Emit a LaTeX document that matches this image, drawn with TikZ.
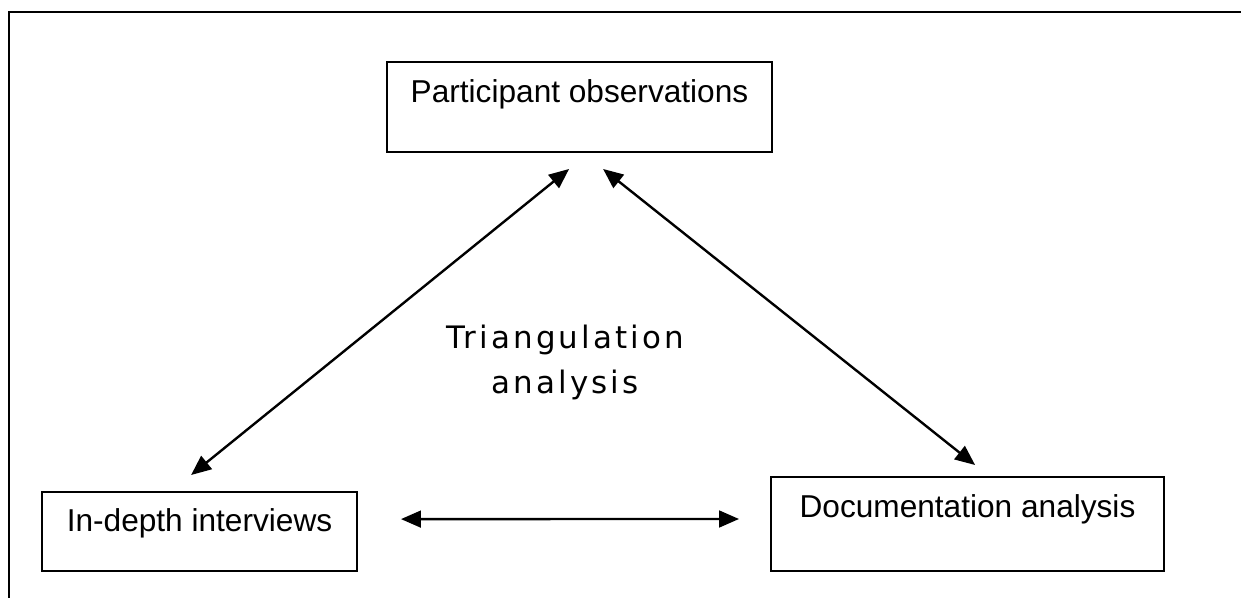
\documentclass[tikz,border=0pt]{standalone}
\usepackage{fontspec}
\setmainfont{Liberation Sans}
\newfontfamily\trifont[LetterSpace=10]{DejaVu Sans}
\usepackage{tikz}
\usetikzlibrary{calc,arrows.meta}
\usetikzlibrary{positioning}

\tikzset{
  methodbox/.style={draw, line width=1.4pt, inner xsep=0pt, inner ysep=0pt,
    font=\fontsize{22.5}{27}\selectfont, anchor=base},
  twoway/.style={{Triangle[length=0.5cm,width=0.42cm]}-{Triangle[length=0.5cm,width=0.42cm]}, line width=1.7pt}
}

\begin{document}
\begin{tikzpicture}
            \useasboundingbox (0, 0) rectangle (31.025, 14.95);
            \draw[line width=2.1pt] (0.225, 0) -- (0.225, 14.65) -- (31.025, 14.65);

            \node[methodbox, minimum width=9.625cm, text height=1.025cm, text depth=1.225cm]
                (po) at (14.4875, 12.375) {Participant observations};
            \node[methodbox, minimum width=7.875cm, text height=1.0cm, text depth=0.975cm]
                (idi) at (4.9875, 1.65) {In-depth interviews};
            \node[methodbox, minimum width=9.825cm, text height=1.025cm, text depth=1.325cm]
                (doc) at (24.1875, 2.0) {Documentation analysis};

            \node[align=center, font=\trifont\fontsize{22}{32}\selectfont]
                (tri) at (14.125, 5.88) {Triangulation\\analysis};

            \draw[twoway] ($(po.south)+(-0.26,-0.4)$) -- ($(idi.north)+(-0.21,0.4)$);
            \draw[twoway] ($(po.south)+(0.59,-0.4)$) -- ($(doc.north)+(0.19,0.275)$);
            \draw[twoway] ($(idi.east)+(1.075,0.31)$) -- ($(doc.west)+(-0.775,0.125)$);
\end{tikzpicture}
\end{document}
